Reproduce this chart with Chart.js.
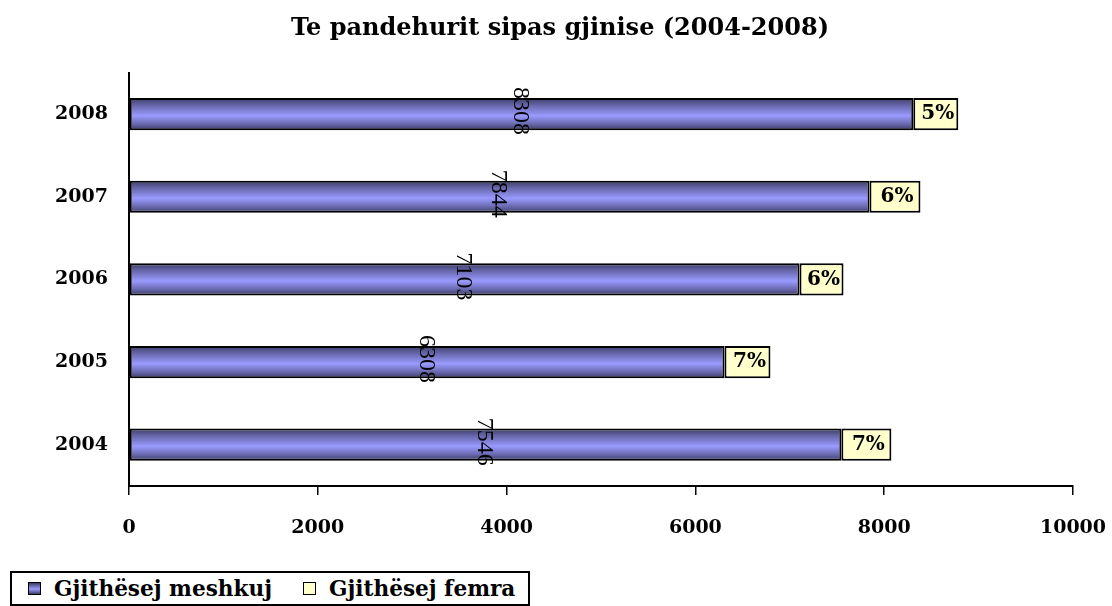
<!DOCTYPE html>
<html>
<head>
<meta charset="utf-8">
<title>Te pandehurit sipas gjinise</title>
<script src="https://cdn.jsdelivr.net/npm/chart.js@4/dist/chart.umd.min.js"></script>
<style>
  html, body { margin: 0; padding: 0; background: #fff; }
  #wrap { position: relative; width: 1112px; height: 606px; }
  #legend {
    position: absolute; left: 10px; top: 571px; width: 520px; height: 35px;
    box-sizing: border-box; border: 2px solid #000; background: #fff;
    display: flex; align-items: center; padding: 0 0 0 16px; white-space: nowrap;
    font: bold 21.6px "Palatino Linotype", "Book Antiqua", Palatino, "DejaVu Serif", serif; color: #000;
  }
  #legend .item { display: flex; align-items: center; margin-right: 31px; }
  #legend .item:last-child { margin-right: 0; }
  #legend .swatch { width: 11px; height: 11px; border: 1.5px solid #000; margin-right: 13px; }
</style>
</head>
<body>
<div id="wrap">
  <canvas id="genderChart"></canvas>
  <div id="legend"></div>
</div>
<script>
const years = ['2008', '2007', '2006', '2005', '2004'];
const maleCounts = [8308, 7844, 7103, 6308, 7546];
const femaleCounts = [477, 540, 466, 487, 530];
const xTicks = [0, 2000, 4000, 6000, 8000, 10000];

const serif = '"Palatino Linotype", "Book Antiqua", Palatino, "DejaVu Serif", serif';
const barPct = 0.39;

// shaded blue fill: dark along the bar edges, light in the middle
function blueFill(c) {
    const chart = c.chart;
    const ys = chart.scales.y;
    if (!ys || c.dataIndex === undefined) return '#8c8ce8';
    const mid = ys.getPixelForValue(c.dataIndex);
    const half = ys.height / years.length * barPct / 2;
    if (!isFinite(mid) || !isFinite(half) || half <= 0) return '#8c8ce8';
    const g = chart.ctx.createLinearGradient(0, mid - half, 0, mid + half);
    g.addColorStop(0, '#3c3c66');
    g.addColorStop(0.25, '#6a6ab0');
    g.addColorStop(0.55, '#9a9aff');
    g.addColorStop(0.8, '#6a6ab0');
    g.addColorStop(1, '#3c3c66');
    return g;
}

const barLabels = {
    id: 'barLabels',
    afterDatasetsDraw(chart) {
        const ctx = chart.ctx;
        const male = chart.getDatasetMeta(0);
        const female = chart.getDatasetMeta(1);
        ctx.save();
        ctx.fillStyle = '#000';
        ctx.textAlign = 'center';
        ctx.textBaseline = 'middle';
        male.data.forEach((bar, i) => {
            ctx.save();
            ctx.translate((bar.x + bar.base) / 2, bar.y);
            ctx.rotate(Math.PI / 2);
            ctx.font = '24px "Liberation Serif", "Times New Roman", serif';
            ctx.fillText(String(maleCounts[i]), -3, 1);
            ctx.restore();
        });
        ctx.font = 'bold 20px ' + serif;
        female.data.forEach((bar, i) => {
            const pct = Math.round(femaleCounts[i] / (maleCounts[i] + femaleCounts[i]) * 100);
            ctx.fillText(pct + '%', (bar.x + bar.base) / 2 + 2, bar.y);
        });
        ctx.restore();
    }
};

function buildLegend(chart) {
    const box = document.getElementById('legend');
    const swatches = ['linear-gradient(#3c3c66, #9a9aff 55%, #3c3c66)', '#ffffcc'];
    box.innerHTML = chart.data.datasets.map((ds, i) =>
        `<span class="item"><span class="swatch" style="background:${swatches[i]}"></span>${ds.label}</span>`
    ).join('');
}

const chart = new Chart(document.getElementById('genderChart'), {
    type: 'bar',
    data: {
        labels: years,
        datasets: [
            {
                label: 'Gjithësej meshkuj',
                data: maleCounts,
                backgroundColor: blueFill,
                borderColor: '#000',
                borderWidth: 2,
                borderSkipped: false
            },
            {
                label: 'Gjithësej femra',
                data: femaleCounts,
                backgroundColor: '#ffffcc',
                borderColor: '#000',
                borderWidth: 2,
                borderSkipped: false
            }
        ]
    },
    options: {
        indexAxis: 'y',
        responsive: true,
        maintainAspectRatio: false,
        animation: false,
        layout: { padding: { left: 47, right: 39, top: 0, bottom: 65 } },
        datasets: { bar: { barPercentage: barPct, categoryPercentage: 1 } },
        plugins: {
            legend: { display: false },
            tooltip: { enabled: false },
            title: {
                display: true,
                text: 'Te pandehurit sipas gjinise (2004-2008)',
                color: '#000',
                font: { family: serif, size: 24, weight: 'bold' },
                padding: { top: 14, bottom: 30 }
            }
        },
        scales: {
            x: {
                stacked: true,
                min: 0,
                max: 10000,
                afterBuildTicks: s => { s.ticks = xTicks.map(v => ({ value: v })); },
                afterFit: s => { s.height = 55; s.paddingLeft = 0; s.paddingRight = 0; },
                grid: { drawOnChartArea: false, drawTicks: true, tickLength: 9, color: '#000', lineWidth: 1.5 },
                border: { color: '#000', width: 2 },
                ticks: {
                    color: '#000',
                    padding: 22,
                    callback: v => String(v),
                    font: { family: serif, size: 19, weight: 'bold' }
                }
            },
            y: {
                stacked: true,
                afterFit: s => { s.width = 82; },
                grid: { drawOnChartArea: false, drawTicks: false },
                border: { color: '#000', width: 2 },
                ticks: { color: '#000', padding: 21, font: { family: serif, size: 19, weight: 'bold' } }
            }
        }
    },
    plugins: [barLabels]
});

buildLegend(chart);
</script>
</body>
</html>
